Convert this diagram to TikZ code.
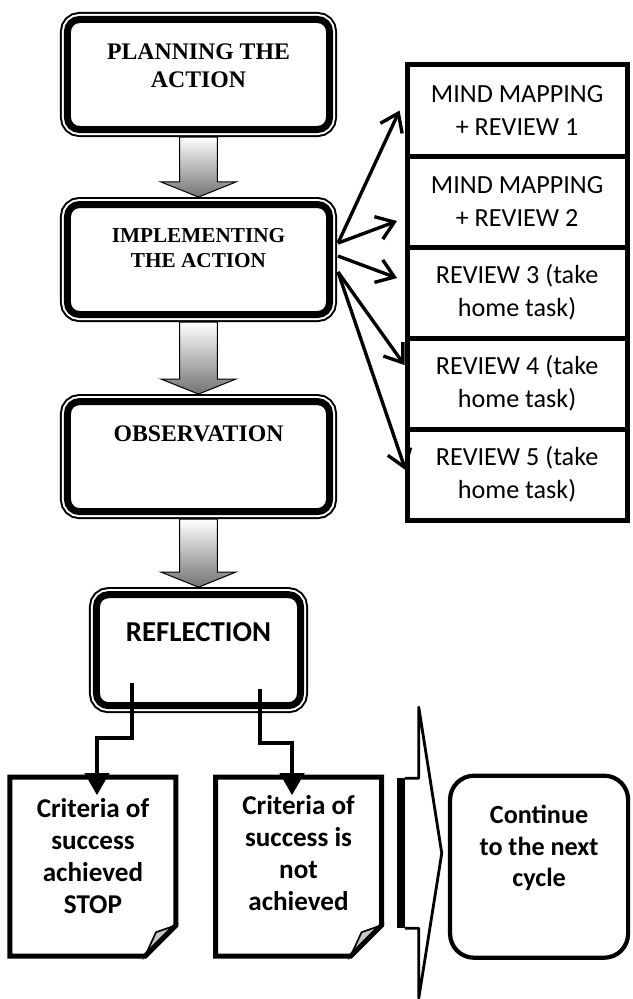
\documentclass[tikz,border=0pt]{standalone}
\usepackage{fontspec}
\setmainfont{Carlito}
\newfontfamily\timesbf{Liberation Serif}
\usetikzlibrary{positioning,calc,arrows.meta}

\newcommand{\flowarrow}[2]{%
  \draw[flow] let \p1=(#1.south), \p2=(#2.north) in
    (\x1-13.5pt,\y1) -- (\x1+13.5pt,\y1) -- (\x1+13.5pt,\y2+10.7pt)
    -- (\x1+26.7pt,\y2+10.7pt) -- (\x1,\y2) -- (\x1-26.7pt,\y2+10.7pt)
    -- (\x1-13.5pt,\y2+10.7pt) -- cycle;}

\newcommand{\docfold}[1]{%
  \filldraw[fill=gray!45, line width=1.2pt] ($(#1.south east)+(-31,0)$)
    -- ($(#1.south east)+(-20,-24)$) .. controls ($(#1.south east)+(-10,-28)$)
    .. ($(#1.south east)+(0,-31)$) -- cycle;
  \draw[docline] (#1.north west) -- (#1.north east) -- ($(#1.south east)+(0,-31)$)
    -- ($(#1.south east)+(-31,0)$) -- (#1.south west) -- cycle;}

\begin{document}
\begin{tikzpicture}[x=0.025cm, y=-0.025cm, on grid,
  mainbox/.style={draw, rounded corners=0.3cm, line width=4.98pt, outer sep=0.1875cm,
    minimum width=6.55cm, minimum height=2.75cm, align=center,
    preaction={draw, line width=10.67pt}, preaction={draw=white, line width=7.82pt},
    preaction={fill=white}},
  stagebox/.style={draw, line width=3.56pt, minimum width=5.5cm, minimum height=2.275cm,
    align=center, font=\fontsize{18.6pt}{23.5pt}\selectfont},
  docbox/.style={minimum width=4.15cm, minimum height=4.475cm, outer sep=0pt,
    align=center, font=\bfseries\fontsize{19.3pt}{22.8pt}\selectfont},
  docline/.style={line width=3.56pt},
  endbox/.style={draw, line width=3pt, rounded corners=0.6cm, minimum width=4.45cm,
    minimum height=4.55cm, align=center, font=\bfseries\fontsize{18.6pt}{22.4pt}\selectfont},
  flow/.style={draw, line width=0.7pt, top color=white, bottom color=black!55},
  link/.style={line width=2.4pt, -{Straight Barb[length=0.42cm,width=0.6cm]}},
  elbow/.style={line width=2.85pt, -{Triangle[length=0.55cm,width=0.6cm]}}]

  \useasboundingbox (0,0) rectangle (632,999);

  \node[mainbox, font=\timesbf\bfseries\fontsize{16.9pt}{19.9pt}\selectfont, text depth=0.425cm] (plan) at (198.5,74.5) {PLANNING THE\\ACTION};
  \node[mainbox, font=\timesbf\bfseries\fontsize{15.1pt}{17.8pt}\selectfont, text depth=0.6cm] (impl) [below=4.625cm of plan] {IMPLEMENTING\\THE ACTION};
  \node[mainbox, font=\timesbf\bfseries\fontsize{16.9pt}{19.9pt}\selectfont, text depth=1.15cm] (obs) [below=4.925cm of impl] {OBSERVATION};
  \node[mainbox, minimum width=5.1cm, minimum height=2.775cm, font=\bfseries\fontsize{20.5pt}{24pt}\selectfont, text depth=0.9cm] (refl) [below=4.8375cm of obs] {REFLECTION};

  \node[stagebox] (m1) [below right=0.9cm and 7.9625cm of plan] {MIND MAPPING\\+ REVIEW 1};
  \node[stagebox] (m2) [below=2.275cm of m1] {MIND MAPPING\\+ REVIEW 2};
  \node[stagebox] (m3) [below=2.275cm of m2] {REVIEW 3 (take\\home task)};
  \node[stagebox] (m4) [below=2.275cm of m3] {REVIEW 4 (take\\home task)};
  \node[stagebox] (m5) [below=2.275cm of m4] {REVIEW 5 (take\\home task)};

  \node[docbox, text depth=0.55cm] (d1) [below left=5.4125cm and 2.6375cm of refl] {Criteria of\\success\\achieved\\STOP};
  \node[docbox, text depth=0.675cm] (d2) [right=5.1375cm of d1] {Criteria of\\success is\\not\\achieved};
  \node[endbox, text depth=1.025cm] (cont) [right=6.0125cm of d2] {Continue\\to the next\\cycle};

  \flowarrow{plan}{impl}
  \flowarrow{impl}{obs}
  \flowarrow{obs}{refl}

  \draw[link] ($(impl.east)+(1,-16.5)$) -- ($(m1.west)+(-5,0)$);
  \draw[link] ($(impl.east)+(1,-16.5)$) -- ($(m2.west)+(-7.5,19.5)$);
  \draw[link] ($(impl.east)+(1,-3.5)$) -- ($(m3.west)+(-7.5,-14.5)$);
  \draw[link] ($(impl.east)+(1,12.5)$) -- ($(m4.west)+(0,-18.5)$);
  \draw[link] ($(impl.east)+(1,12.5)$) -- ($(m5.west)+(1,-4.5)$);

  \docfold{d1}
  \docfold{d2}

  \draw[elbow] ($(refl.south)+(-66.5,-30)$) -- ++(0,55) -| ($(d1.north)+(4,18)$);
  \draw[elbow] ($(refl.south)+(61.5,-24)$) -- ++(0,54) -| ($(d2.north)+(-6.5,18)$);

  \coordinate (g) at ($(d2.east)!0.5!(cont.west)$);
  \fill ($(g)+(-18,-88.5)$) rectangle ($(g)+(-10,61.5)$);
  \draw[line width=2pt, line join=round] ($(g)+(-10,-88.5)$) -- ++(14,0) -- ++(0,-71)
    -- ($(g)+(27,-13.5)$) -- ($(g)+(4,131.5)$) -- ++(0,-70) -- ++(-14,0);
\end{tikzpicture}
\end{document}
